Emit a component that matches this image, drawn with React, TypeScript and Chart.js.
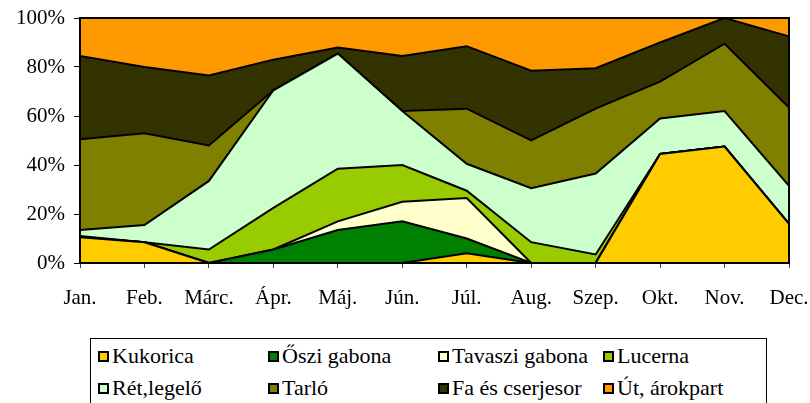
import React, { useEffect, useRef } from "react";
import { Chart, registerables } from "chart.js";

Chart.register(...registerables);

const months = ["Jan.", "Feb.", "Márc.", "Ápr.", "Máj.", "Jún.", "Júl.", "Aug.", "Szep.", "Okt.", "Nov.", "Dec."];

const kukorica = [10.5, 8.5, 0, 0, 0, 0, 4, 0, 0, 44.5, 47.5, 16];
const osziGabona = [0, 0, 0, 5.5, 13.5, 17, 6, 0, 0, 0, 0, 0];
const tavasziGabona = [0, 0, 0, 0, 3.5, 8, 16.5, 0, 0, 0, 0, 0];
const lucerna = [0.5, 0, 5.5, 17, 21.5, 15, 3, 8.5, 3.5, 0, 0, 0];
const retLegelo = [2.5, 7, 28, 48, 47, 22, 11, 22, 33, 14.5, 14.5, 15.5];
const tarlo = [37, 37.5, 14.5, 0, 0, 0, 22.5, 19.5, 26.5, 15, 27.5, 32];
const faCserjesor = [34, 27, 28.5, 12.5, 2.5, 22.5, 25.5, 28.5, 16.5, 16, 10.5, 29];
const utArokpart = [15.5, 20, 23.5, 17, 12, 15.5, 11.5, 21.5, 20.5, 10, 0, 7.5];

const yTicks = [0, 20, 40, 60, 80, 100];

const seriesNames = ["Kukorica", "Őszi gabona", "Tavaszi gabona", "Lucerna", "Rét,legelő", "Tarló", "Fa és cserjesor", "Út, árokpart"];
const seriesData = [kukorica, osziGabona, tavasziGabona, lucerna, retLegelo, tarlo, faCserjesor, utArokpart];
const seriesColors = ["#FFCC00", "#008000", "#FFFFCC", "#99CC00", "#CCFFCC", "#808000", "#333300", "#FF9900"];

const FONT = "Liberation Serif, DejaVu Serif, serif";

const frame = {
  id: "frame",
  afterDatasetsDraw(chart: any) {
    const { ctx, chartArea } = chart;
    ctx.save();
    ctx.strokeStyle = "#000";
    ctx.lineWidth = 2;
    ctx.strokeRect(chartArea.left, chartArea.top, chartArea.right - chartArea.left, chartArea.bottom - chartArea.top);
    ctx.restore();
  },
};

export default function App() {
  const ref = useRef<HTMLCanvasElement>(null);

  useEffect(() => {
    if (!ref.current) return;
    const chart = new Chart(ref.current, {
      type: "line",
      data: {
        labels: months,
        datasets: seriesData.map((d, i) => ({
          label: seriesNames[i],
          data: d,
          backgroundColor: seriesColors[i],
          borderColor: "#000",
          borderWidth: 2,
          pointRadius: 0,
          tension: 0,
          fill: i === 0 ? "origin" : "-1",
        })),
      },
      options: {
        animation: false,
        responsive: false,
        maintainAspectRatio: false,
        layout: { padding: { top: 18, right: 21, left: 0, bottom: 0 } },
        plugins: { legend: { display: false }, tooltip: { enabled: false } },
        scales: {
          x: {
            offset: false,
            grid: { display: true, drawOnChartArea: false, drawTicks: true, tickLength: 5, color: "#444" },
            border: { display: true, color: "#000", width: 2 },
            ticks: { font: { family: FONT, size: 21 }, color: "#000", padding: 18, maxRotation: 0, autoSkip: false },
            afterFit: (s: any) => { s.height = 72; s.paddingLeft = 0; s.paddingRight = 0; },
          },
          y: {
            stacked: true,
            min: 0,
            max: 100,
            afterBuildTicks: (s: any) => { s.ticks = yTicks.map((v) => ({ value: v })); },
            grid: { display: true, drawOnChartArea: false, drawTicks: true, tickLength: 6, color: "#000" },
            border: { display: true, color: "#000", width: 2 },
            ticks: { font: { family: FONT, size: 21 }, color: "#000", padding: 9, callback: (v: any) => v + "%" },
            afterFit: (s: any) => { s.width = 80; s.paddingTop = 0; s.paddingBottom = 0; },
          },
        },
      },
      plugins: [frame],
    });
    return () => chart.destroy();
  }, []);

  const cols = [98, 268, 438, 603];
  const rows = [356, 388];

  return (
    <div style={{ position: "fixed", left: 0, top: 0, width: 810, height: 403, background: "#fff", overflow: "hidden", fontFamily: FONT }}>
      <canvas ref={ref} width={810} height={335} style={{ position: "absolute", left: 0, top: 0, width: 810, height: 335 }} />
      <div style={{ position: "absolute", left: 90, top: 338, width: 677, height: 80, border: "1.5px solid #000", boxSizing: "border-box" }} />
      {seriesNames.map((n, i) => {
        const x = cols[i % 4];
        const y = rows[Math.floor(i / 4)];
        return (
          <div key={n} style={{ position: "absolute", left: x, top: y - 15, height: 30, display: "flex", alignItems: "center", whiteSpace: "nowrap" }}>
            <span style={{ display: "inline-block", width: 11, height: 11, background: seriesColors[i], border: "2px solid #000", boxSizing: "border-box", marginRight: 3 }} />
            <span style={{ fontSize: 22, color: "#000", lineHeight: "30px" }}>{n}</span>
          </div>
        );
      })}
    </div>
  );
}
